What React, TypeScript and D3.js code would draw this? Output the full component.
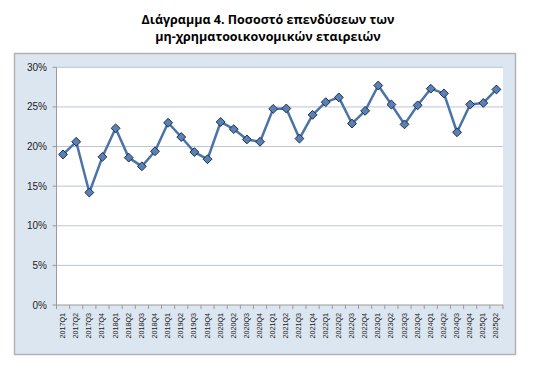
import React from "react";
import * as d3 from "d3";

const categories: string[] = [
  "2017Q1","2017Q2","2017Q3","2017Q4",
  "2018Q1","2018Q2","2018Q3","2018Q4",
  "2019Q1","2019Q2","2019Q3","2019Q4",
  "2020Q1","2020Q2","2020Q3","2020Q4",
  "2021Q1","2021Q2","2021Q3","2021Q4",
  "2022Q1","2022Q2","2022Q3","2022Q4",
  "2023Q1","2023Q2","2023Q3","2023Q4",
  "2024Q1","2024Q2","2024Q3","2024Q4",
  "2025Q1","2025Q2",
];
const values: number[] = [
  19.0, 20.6, 14.2, 18.7,
  22.3, 18.6, 17.5, 19.4,
  23.0, 21.2, 19.3, 18.4,
  23.1, 22.2, 20.9, 20.6,
  24.75, 24.8, 21.0, 24.0,
  25.6, 26.2, 22.9, 24.5,
  27.7, 25.3, 22.8, 25.2,
  27.3, 26.7, 21.8, 25.3,
  25.5, 27.2,
];
const yTicks: number[] = [0, 5, 10, 15, 20, 25, 30];
const titleLines: string[] = [
  "Διάγραμμα 4. Ποσοστό επενδύσεων των",
  "μη-χρηματοοικονομικών εταιρειών",
];

const W = 536, H = 378;
const plot = { left: 56.5, right: 503, top: 67.3, bottom: 305 };

export default function App() {
  const x = d3.scaleBand<string>().domain(categories).range([plot.left, plot.right]);
  const y = d3.scaleLinear().domain([0, 30]).range([plot.bottom, plot.top]);
  const cx = (c: string) => (x(c) as number) + x.bandwidth() / 2;
  const line = d3.line<number>().x((_, i) => cx(categories[i])).y((v) => y(v));
  const diamond = d3.symbol().type(d3.symbolDiamond2).size(50)();
  const font = "'Liberation Sans', Arial, sans-serif";
  const boundaries = categories.map((c) => x(c) as number).concat([plot.right]);

  return (
    <svg width={W} height={H} style={{ position: "absolute", left: 0, top: 0 }}>
      <rect x={0} y={0} width={W} height={H} fill="#fff" />
      {titleLines.map((t, i) => (
        <text key={i} x={268} y={24 + i * 17} textAnchor="middle"
          fontFamily="'Open Sans', sans-serif" fontWeight="bold" fontSize={12.5} fill="#000">{t}</text>
      ))}
      <rect x={14.5} y={53.5} width={501} height={301} fill="#dce6f1" stroke="#b3b3b3" strokeWidth={1.5} />
      <rect x={plot.left} y={plot.top} width={plot.right - plot.left} height={plot.bottom - plot.top} fill="#fff" />
      {yTicks.map((t) => (
        <g key={t}>
          {t > 0 && (
            <line x1={plot.left} x2={plot.right} y1={y(t)} y2={y(t)} stroke="#bcc5d8" strokeWidth={1} />
          )}
          <line x1={plot.left - 4} x2={plot.left} y1={y(t)} y2={y(t)} stroke="#9a9a9a" />
          <text x={47} y={y(t)} dy="0.35em" textAnchor="end" fontFamily={font} fontSize={10} fill="#222">{t}%</text>
        </g>
      ))}
      <line x1={plot.left} x2={plot.left} y1={plot.top} y2={plot.bottom} stroke="#9a9a9a" />
      <line x1={plot.left} x2={plot.right} y1={plot.bottom} y2={plot.bottom} stroke="#9a9a9a" />
      {boundaries.map((b, i) => (
        <line key={i} x1={b} x2={b} y1={plot.bottom} y2={plot.bottom + 4} stroke="#9a9a9a" />
      ))}
      {categories.map((c) => (
        <text key={c} transform={`translate(${cx(c) + 2},${plot.bottom + 8}) rotate(-90)`}
          textAnchor="end" fontFamily={font} fontSize={7.2} fill="#222">{c}</text>
      ))}
      <path d={line(values) || ""} fill="none" stroke="#4a73a8" strokeWidth={2.5} strokeLinejoin="round" />
      {values.map((v, i) => (
        <path key={i} d={diamond || ""} transform={`translate(${cx(categories[i])},${y(v)})`}
          fill="#5b80b4" stroke="#1d2f4a" strokeWidth={1} />
      ))}
    </svg>
  );
}
